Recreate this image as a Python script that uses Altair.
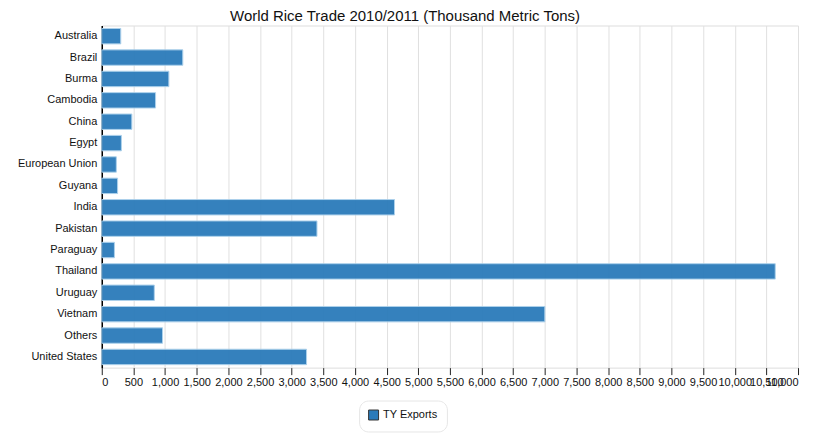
import altair as alt
import pandas as pd

countries = ["Australia", "Brazil", "Burma", "Cambodia", "China", "Egypt",
             "European Union", "Guyana", "India", "Pakistan", "Paraguay",
             "Thailand", "Uruguay", "Vietnam", "Others", "United States"]
exports = [300, 1280, 1060, 850, 475, 310, 230, 250, 4625, 3400, 200,
           10640, 830, 7000, 960, 3235]
series = ["TY Exports"] * len(countries)
tick_values = list(range(0, 11001, 500))

df = pd.DataFrame({"Country": countries, "Exports": exports, "Series": series})

FONT = "Liberation Sans"
NBSP = "\u00a0" * 4

bars = alt.Chart(df).mark_bar(
    stroke="#a9cfea", strokeWidth=1, opacity=0.95
).encode(
    y=alt.Y("Country:N", sort=countries, title=None,
            scale=alt.Scale(paddingInner=0.28, paddingOuter=0.14),
            axis=alt.Axis(domain=True, domainColor="#000000", domainWidth=1.5,
                          ticks=False, labelPadding=5, labelFontSize=11,
                          labelColor="#111111", labelFont=FONT, grid=False)),
    x=alt.X("Exports:Q", title=None,
            scale=alt.Scale(domain=[0, 11000], nice=False),
            axis=alt.Axis(values=tick_values, format=",d",
                          domain=False, grid=True, gridColor="#e0e0e0",
                          gridWidth=1, tickColor="#222222", tickSize=7,
                          labelFontSize=11, labelColor="#111111", labelFont=FONT,
                          labelOverlap=False, labelPadding=2)),
    color=alt.Color("Series:N", scale=alt.Scale(range=["#2b7bba"]),
                    legend=alt.Legend(title=None, orient="none",
                                      legendX=258, legendY=376,
                                      symbolType="square", symbolSize=100,
                                      symbolStrokeColor="#333333",
                                      symbolStrokeWidth=1, symbolOpacity=1,
                                      labelFontSize=11, labelFont=FONT,
                                      labelColor="#111111",
                                      labelExpr="datum.label + '" + NBSP + "'",
                                      strokeColor="#e6e6e6", cornerRadius=9,
                                      padding=9, fillColor="#ffffff",
                                      rowPadding=0, labelLimit=200)),
)

chart = bars.properties(
    width=698, height=343,
    title=alt.TitleParams("World Rice Trade 2010/2011 (Thousand Metric Tons)",
                          font=FONT, fontSize=15, fontWeight="normal",
                          color="#111111", anchor="middle", dx=-45, offset=1),
    autosize=alt.AutoSizeParams(type="none"),
    padding={"left": 94, "top": 17, "right": 13, "bottom": 66},
).configure_view(stroke=None).configure(background="#ffffff")

chart.save("out.html", embed_options={"renderer": "svg", "actions": False})
